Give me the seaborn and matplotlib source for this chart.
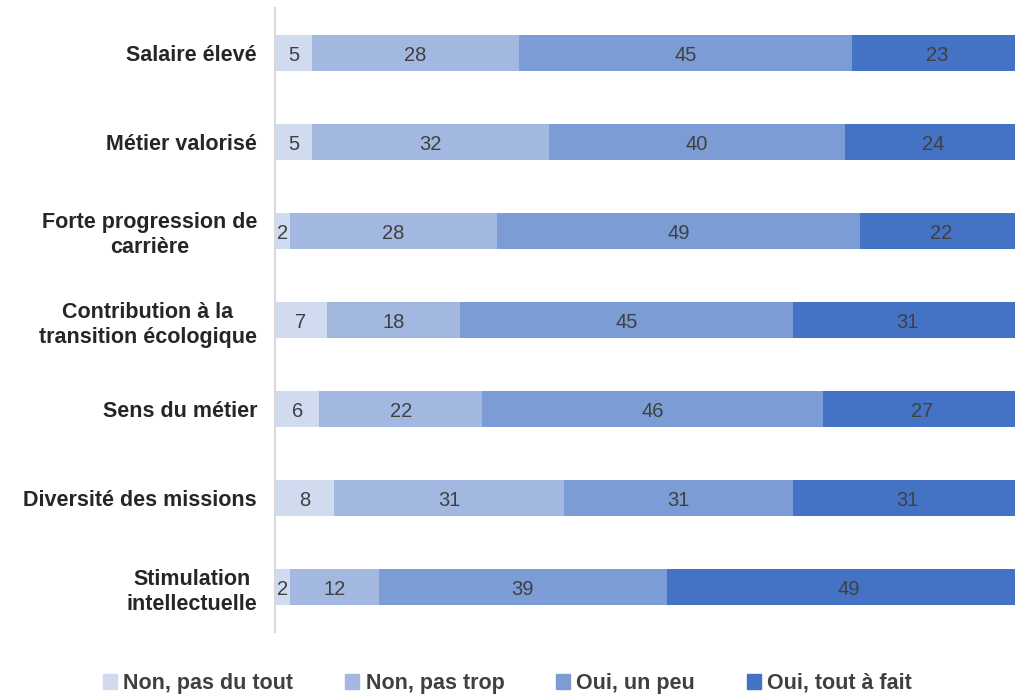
#Stacked horizontal bars: motivations survey

#Import packages
import seaborn as sns
import matplotlib.pyplot as plt
import matplotlib.patches as mpatches
import pandas as pd
import numpy as np

#Data
categories = ['Salaire élevé', 'Métier valorisé', 'Forte progression de\ncarrière',
              'Contribution à la\ntransition écologique', 'Sens du métier',
              'Diversité des missions', 'Stimulation\nintellectuelle']
series = ['Non, pas du tout', 'Non, pas trop', 'Oui, un peu', 'Oui, tout à fait']
pas_du_tout = [5, 5, 2, 7, 6, 8, 2]
pas_trop = [28, 32, 28, 18, 22, 31, 12]
un_peu = [45, 40, 49, 45, 46, 31, 39]
tout_a_fait = [23, 24, 22, 31, 27, 31, 49]
colors = ['#D0DBEF', '#A2B8E1', '#7C9CD6', '#4472C4']

data = pd.DataFrame({'cat': categories, series[0]: pas_du_tout, series[1]: pas_trop,
                     series[2]: un_peu, series[3]: tout_a_fait})
cum = data[series].cumsum(axis=1)

sns.set_style('white')
plt.rcParams['font.family'] = ['Liberation Sans', 'DejaVu Sans']

fig = plt.figure(figsize=(10.15, 6.98), dpi=100)
ax = fig.add_axes([0.271, 0.095, 0.729, 0.893])

#draw cumulative totals from the widest down so each layer shows as a segment
for s, c in reversed(list(zip(series, colors))):
    sns.barplot(data=cum.assign(cat=data['cat']), x=s, y='cat', color=c,
                width=0.41, saturation=1, ax=ax, linewidth=0)

#value labels in the middle of each segment
for i in range(len(categories)):
    for s in series:
        v = data.loc[i, s]
        mid = cum.loc[i, s] - v / 2
        ax.text(mid, i + 0.03, str(v), ha='center', va='center', fontsize=14.5, color='#404040')

ax.set_xlim(0, 100)
ax.set_xlabel('')
ax.set_ylabel('')
ax.set_xticks([])
ax.tick_params(axis='y', length=0, pad=13)
for lab in ax.get_yticklabels():
    lab.set_fontweight('bold')
    lab.set_fontsize(15.5)
    lab.set_color('#262626')
    lab.set_multialignment('center')
    lab.set_linespacing(1.25)
for side in ['top', 'right', 'bottom']:
    ax.spines[side].set_visible(False)
ax.spines['left'].set_color('#D9D9D9')
ax.spines['left'].set_linewidth(1.5)

handles = [mpatches.Patch(color=c, label=s) for s, c in zip(series, colors)]
leg = fig.legend(handles=handles, loc='lower center', ncol=4, frameon=False,
                 bbox_to_anchor=(0.5, -0.022), prop={'weight': 'bold', 'size': 15.5},
                 handlelength=0.65, handleheight=0.65, handletextpad=0.3,
                 columnspacing=2.4, labelcolor='#404040')

plt.savefig('out.png', dpi=100)
